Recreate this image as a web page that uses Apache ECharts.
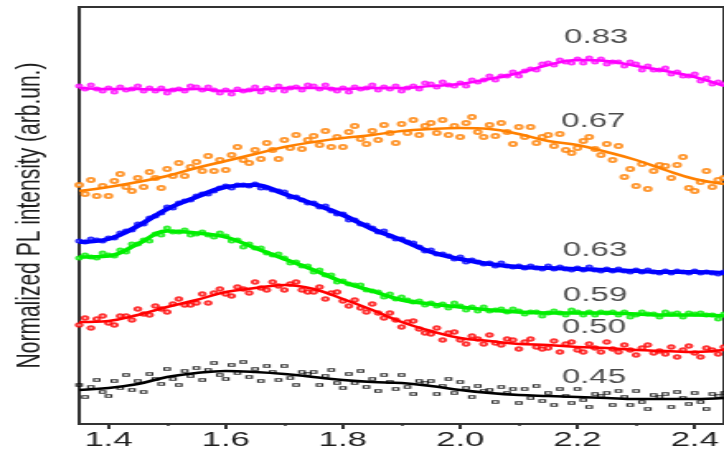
<!DOCTYPE html>
<html><head><meta charset="utf-8">
<script src="https://cdn.jsdelivr.net/npm/echarts@6/dist/echarts.min.js"></script>
<style>
html,body{margin:0;padding:0;background:#fff;overflow:hidden;width:724px;height:455px}
#c{width:439px;height:455px;transform:scaleX(1.64920);transform-origin:0 0;}
</style></head><body><div id="c"></div>
<script>
// photon energy (eV) for fitted curves and for measured points
const xFit = [1.35,1.40,1.45,1.50,1.55,1.60,1.65,1.70,1.75,1.80,1.85,1.90,1.95,2.00,2.05,2.10,2.15,2.20,2.25,2.30,2.35,2.40,2.45];
const xPts = [1.35,1.36,1.37,1.38,1.39,1.40,1.41,1.42,1.43,1.44,1.45,1.46,1.47,1.48,1.49,1.50,1.51,1.52,1.53,1.54,
  1.55,1.56,1.57,1.58,1.59,1.60,1.61,1.62,1.63,1.64,1.65,1.66,1.67,1.68,1.69,1.70,1.71,1.72,1.73,1.74,
  1.75,1.76,1.77,1.78,1.79,1.80,1.81,1.82,1.83,1.84,1.85,1.86,1.87,1.88,1.89,1.90,1.91,1.92,1.93,1.94,
  1.95,1.96,1.97,1.98,1.99,2.00,2.01,2.02,2.03,2.04,2.05,2.06,2.07,2.08,2.09,2.10,2.11,2.12,2.13,2.14,
  2.15,2.16,2.17,2.18,2.19,2.20,2.21,2.22,2.23,2.24,2.25,2.26,2.27,2.28,2.29,2.30,2.31,2.32,2.33,2.34,
  2.35,2.36,2.37,2.38,2.39,2.40,2.41,2.42,2.43,2.44,2.45];

const seriesNames = ['0.83','0.67','0.63','0.59','0.50','0.45'];

const fit083 = [335,334,334,333,334,332,333,335,335,334,335,335,337,339,344,350,358,363,362,357,352,346,337];
const fit067 = [232,236,241,247,255,262,269,276,281,285,288,292,294,295,294,289,282,278,271,263,253,244,239];
const fit063 = [181,184,197,214,226,236,238,229,219,208,194,183,171,164,159,156,155,154,153,152,151,151,150];
const fit059 = [166,167,179,192,190,186,175,164,153,141,132,123,119,116,113,111,110,110,110,109,108,108,107];
const fit050 = [101,102,108,116,123,131,135,138,134,124,113,101,92,85,82,79,78,76,75,73,72,71,73];
const fit045 = [33,35,39,46,50,52,51,49,46,43,41,40,37,33,30,28,27,26,25,24,24,24,25];

const pts083 = [337,334,338,334,332, 335,331,336,333,334, 337,332,335,332,335, 330,333,334,332,337,
  336,333,336,333,330, 333,329,334,332,333, 336,331,335,333,337, 332,335,336,333,338,
  337,334,338,334,332, 335,331,336,334,335, 338,333,336,334,337, 332,335,337,334,340,
  339,336,341,338,337, 340,337,343,341,343, 347,343,347,347,351, 347,352,354,353,359,
  360,358,363,361,360, 364,360,365,361,364, 359,361,361,357,361, 359,353,357,353,353,
  355,349,351,347,347, 349,342,345,339,341, 339];
const pts067 = [238,229,243,227,237, 227,242,249,236,232, 245,236,251,245,235, 254,247,260,247,256,
  261,252,267,252,263, 253,268,276,263,260, 273,264,280,273,264, 283,275,288,274,283,
  287,278,292,276,286, 276,291,297,284,279, 292,283,298,290,280, 299,290,303,288,297,
  300,290,303,288,297, 286,300,306,291,286, 298,287,300,291,279, 296,286,296,280,286,
  288,277,289,273,270, 275,282,286,274,268, 279,263,277,246,254, 237,259,234,252,258,
  257,245,258,266,235, 232,241,252,236,243, 245];
const pts063 = [182,181,184,183,182, 185,185,190,192,193, 199,199,205,207,210, 216,215,220,222,223,
  227,229,229,232,235, 237,235,238,238,237, 239,235,235,233,232, 231,226,226,223,220,
  220,216,217,212,209, 209,203,203,199,198, 195,191,192,187,184, 184,181,180,176,172,
  173,169,169,167,164, 166,161,163,161,159, 160,157,160,157,156, 157,155,157,155,154,
  157,154,156,154,153, 155,153,156,153,152, 154,152,154,152,151, 153,151,153,151,150,
  152,150,152,151,150, 152,150,151,150,149, 151];
const pts059 = [165,168,166,165,170, 168,167,173,171,179, 179,183,182,189,188, 195,191,191,193,188,
  189,191,188,186,190, 187,182,183,176,179, 175,175,170,168,169, 165,160,161,157,157,
  151,153,148,148,141, 142,139,138,138,133, 132,131,126,129,124, 126,123,121,122,118,
  120,117,119,115,120, 117,113,116,112,116, 112,113,114,111,114, 112,109,111,111,107,
  110,112,110,108,113, 111,108,111,108,111, 110,111,108,111,106, 108,111,109,109,106,
  111,109,110,106,110, 109,110,108,108,104, 109];
const pts050 = [98,105,95,104,107, 100,98,107,107,103, 114,109,108,117,114, 111,119,124,118,118,
  120,129,120,130,134, 129,127,136,134,130, 141,135,133,141,137, 133,139,141,133,131,
  131,136,124,130,131, 122,117,123,115,111, 119,110,105,110,103, 96,101,102,94,90,
  89,95,83,90,91, 83,79,87,84,79, 88,80,78,84,83, 74,81,84,76,74,
  75,82,71,79,81, 73,71,79,75,71, 81,74,71,78,73, 68,75,78,70,72,
  69,76,66,73,77, 70,66,75,73,69, 76];
const pts045 = [38,26,36,43,31, 27,42,35,48,33, 42,31,49,44,39, 54,44,38,52,47,
  55,43,53,60,48, 44,58,50,61,46, 54,42,57,51,43, 57,45,38,51,49,
  51,38,47,53,40, 35,49,40,52,36, 44,32,48,41,34, 48,36,29,42,40,
  42,29,37,44,30, 41,35,26,37,32, 33,21,36,30,34, 20,34,25,37,22,
  30,18,34,27,20, 34,23,16,29,27, 30,18,32,26,18, 32,21,14,28,26,
  29,16,31,25,19, 30,21,14,29,27, 30];

const labelX = [2.232,2.227,2.230,2.230,2.228,2.228];
const labelY = [386,302,173,128,96,46];

const tickLabels = [1.4,1.6,1.8,2.0,2.2,2.4];
const minorTicks = [1.5,1.7,1.9,2.1,2.3];

const fits = [fit083,fit067,fit063,fit059,fit050,fit045];
const pts = [pts083,pts067,pts063,pts059,pts050,pts045];
const colors = ['#ff00ff','#ff8000','#0000ff','#00ee00','#ff0000','#000000'];
const symbols = ['emptyCircle','emptyCircle','emptyCircle','emptyCircle','emptyCircle','rect'];
const symSizes = [3,4,3,3,3.5,[3.5,2.5]];
const lineW = [2.5,2.5,4,3.5,2.5,2.5];

const FONT = 'Liberation Sans, Arial, sans-serif';
const TXT = '#1e1e1e';
const series = [];
for (let i = 0; i < seriesNames.length; i++) {
  series.push({
    name: seriesNames[i] + ' pts', type: 'scatter', xAxisIndex: 0,
    data: xPts.map((x, j) => [x, pts[i][j]]),
    symbol: symbols[i], symbolSize: symSizes[i],
    itemStyle: symbols[i] === 'rect'
      ? {color: 'rgba(0,0,0,0)', borderColor: colors[i], borderWidth: 1}
      : {color: colors[i], borderColor: colors[i], borderWidth: 1},
    z: 2, silent: true
  });
}
for (let i = 0; i < seriesNames.length; i++) {
  series.push({
    name: seriesNames[i], type: 'line', xAxisIndex: 0,
    data: xFit.map((x, j) => [x, fits[i][j]]),
    smooth: 0.4, showSymbol: false, symbol: 'none',
    lineStyle: {color: colors[i], width: lineW[i]},
    z: 3, silent: true
  });
}
series.push({
  type: 'scatter', name: 'labels', xAxisIndex: 0,
  data: seriesNames.map((n, i) => ({name: n, value: [labelX[i], labelY[i]]})),
  symbolSize: 0,
  label: {show: true, position: 'inside', formatter: p => p.name,
    fontSize: 20, color: TXT, fontFamily: FONT},
  z: 5, silent: true
});

const chart = echarts.init(document.getElementById('c'), null, {renderer: 'canvas'});
chart.setOption({
  animation: false,
  backgroundColor: '#fff',
  grid: {left: 45.63, top: 7, width: 396.86, bottom: 31, show: true,
    borderColor: '#333', borderWidth: 2, backgroundColor: 'rgba(0,0,0,0)'},
  xAxis: [{
    type: 'value', min: 1.35, max: 2.45, position: 'bottom',
    axisLine: {show: true, onZero: false, lineStyle: {color: '#333', width: 2}},
    axisTick: {show: true, customValues: tickLabels, length: 5, lineStyle: {color: '#333', width: 2}},
    axisLabel: {show: true, customValues: tickLabels, formatter: v => Number(v).toFixed(1),
      fontSize: 21, color: TXT, fontFamily: FONT, margin: 6},
    splitLine: {show: false}
  }, {
    type: 'value', min: 1.35, max: 2.45, position: 'bottom',
    axisLine: {show: false},
    axisTick: {show: true, customValues: minorTicks, length: 3, lineStyle: {color: '#333', width: 1.5}},
    axisLabel: {show: false},
    splitLine: {show: false}
  }],
  yAxis: {
    type: 'value', min: -1, max: 416,
    axisLine: {show: true, lineStyle: {color: '#333', width: 2}},
    axisTick: {show: false}, axisLabel: {show: false}, splitLine: {show: false},
    name: 'Normalized PL intensity (arb.un.)', nameLocation: 'middle', nameGap: 19,
    nameTextStyle: {fontSize: 21, color: TXT, fontFamily: FONT}
  },
  series: series
});
</script></body></html>
